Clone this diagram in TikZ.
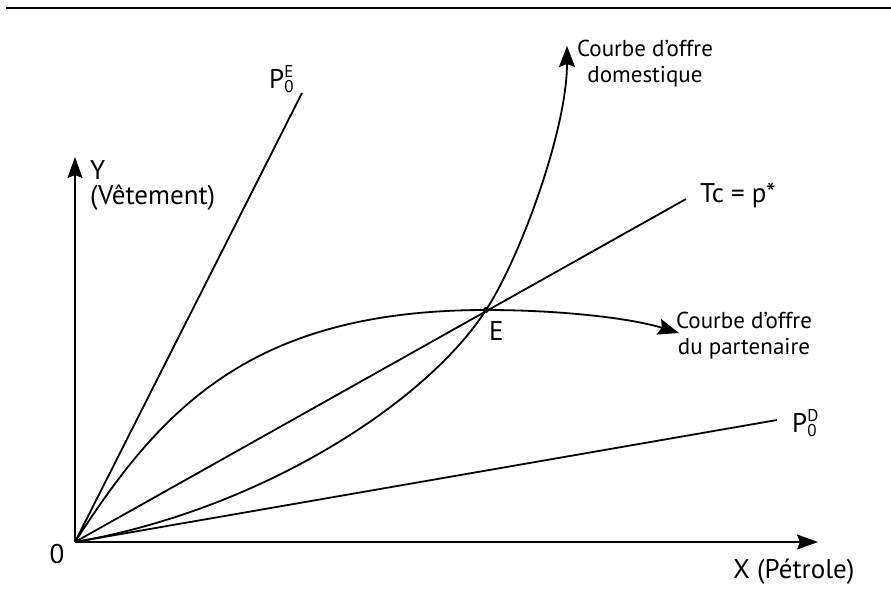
\documentclass[tikz,border=0pt]{standalone}
\usepackage{fontspec}
\setmainfont{PT Sans}
\usetikzlibrary{arrows.meta}

% price line label: P with stacked super- and subscript
\newcommand{\plabel}[2]{P\rlap{\raisebox{11pt}{\fontsize{17}{17}\selectfont #1}}\raisebox{-4pt}{\fontsize{17}{17}\selectfont #2}}

\begin{document}
\begin{tikzpicture}[x=1pt, y=-1pt, font=\fontsize{27}{25}\selectfont,
    ray/.style={line width=1.8pt},
    axis/.style={line width=1.2pt, -{Stealth[length=21pt, width=15pt, inset=3pt]}},
    offer/.style={line width=1.8pt, -{Stealth[length=21pt, width=16pt, inset=3pt]}},
    note/.style={font=\fontsize{23}{26}\selectfont, align=center, inner sep=0pt}]
  \useasboundingbox (0,0) rectangle (891,604);

  % rule across the top of the page
  \coordinate (ruleL) at (6,8.5);
  \coordinate (ruleR) at (891,8.5);
  \draw[line width=2pt] (ruleL) -- (ruleR);

  % origin, axes
  \coordinate (O) at (75,542);
  \coordinate (xend) at (818,542);
  \coordinate (yend) at (75,157);
  \draw[axis] (O) -- (xend);
  \draw[axis] (O) -- (yend);
  \node[anchor=center] (zero) at (57,554) {0};
  \node[anchor=base west, inner sep=0pt] (xlab) at (733,578) {X (Pétrole)};
  \node[anchor=north west, align=left, inner sep=0pt] (ylab) at (90,160) {Y\\(Vêtement)};

  % the three price rays out of the origin
  \foreach \n/\px/\py in {rayE/302/93, rayT/686/199, rayD/777/420} {
    \coordinate (\n) at (\px,\py);
    \draw[ray] (O) -- (\n);
  }
  \node[anchor=base west, inner sep=0pt] (labE) at (269,89) {\plabel{E}{0}};
  \node[anchor=base west, inner sep=0pt] (labT) at (700,203) {Tc = p*};
  \node[anchor=base west, inner sep=0pt] (labD) at (792,432) {\plabel{D}{0}};

  % equilibrium
  \coordinate (E) at (486,310);
  \fill (E) circle (3pt);
  \node[anchor=base west, inner sep=0pt] (labEq) at (489,340) {E};

  % offer curves, both through E
  \coordinate (domtip) at (567,46);
  \coordinate (partip) at (679,333);
  \draw[offer] (O) .. controls (260,510) and (426,403) .. (E)
                   .. controls (520,258) and (567,130) .. (domtip);
  \draw[offer] (O) .. controls (160,410) and (250,310) .. (E)
                   .. controls (560,310) and (630,318) .. (partip);
  \node[note, anchor=north] (domlab) at (645,40) {Courbe d’offre\\domestique};
  \node[note, anchor=north] (parlab) at (744,312) {Courbe d’offre\\du partenaire};
\end{tikzpicture}
\end{document}
